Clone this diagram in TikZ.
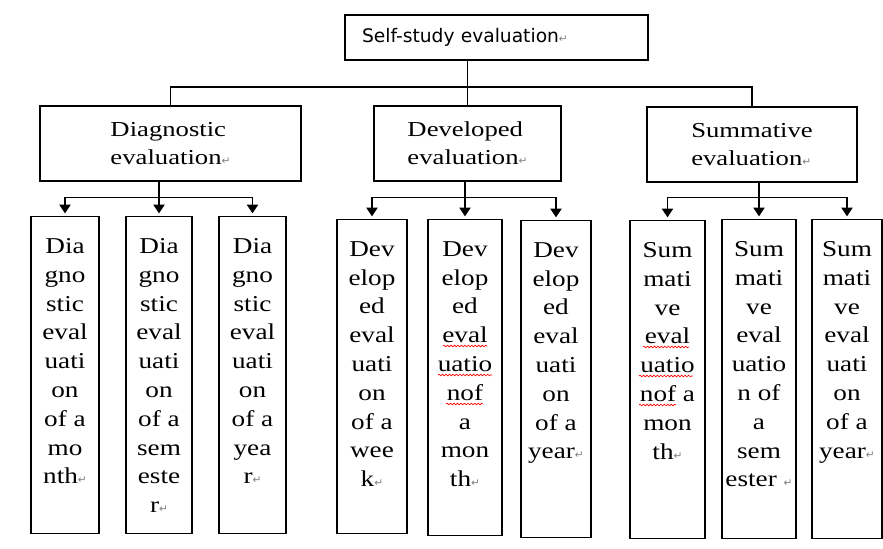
\documentclass[tikz,border=0pt]{standalone}
\usepackage{fontspec}
\usetikzlibrary{arrows.meta,decorations.pathmorphing}
\setmainfont{Liberation Serif}
\newfontfamily\leaffont[FakeStretch=1.2]{Liberation Serif}
\newfontfamily\midfont[FakeStretch=1.25]{Liberation Serif}
\newfontfamily\topfont{DejaVu Sans}
\newcommand\pmark{{\topfont\fontsize{8}{8}\selectfont\textcolor{gray}{↵}}}
\newcommand\leafbox[3]{\parbox[t][#2][t]{#1}{\centering\leaffont\fontsize{17}{21.6}\selectfont\vspace*{16.5pt}#3}}
\begin{document}
\begin{tikzpicture}[x=0.75pt,y=-0.75pt,line width=0.8pt,
  top/.style={draw,align=left,inner xsep=12.75pt,text width=201.75pt,minimum height=33.75pt,font=\topfont\fontsize{14}{16}\selectfont},
  mid/.style={draw,align=left,minimum height=56.25pt,font=\midfont\fontsize{16}{21}\selectfont},
  leaf/.style={draw,inner sep=0pt,anchor=north},
  arr/.style={-{Triangle[width=8.5pt,length=6.5pt]},shorten >=2pt},
  wave/.style={red,line width=0.5pt,decorate,decoration={snake,amplitude=0.6pt,segment length=2.6pt}}]
\useasboundingbox (0,0) rectangle (883,549);
\node[top] (top) at (496.5,37.5) {Self-study evaluation\pmark};
\node[mid,minimum width=195.75pt] (diag) at (170.5,143.5) {Diagnostic\\evaluation\pmark};
\node[mid,minimum width=140.25pt] (dev) at (467.5,143.5) {Developed\\evaluation\pmark};
\node[mid,minimum width=157.5pt] (summ) at (752,144.5) {Summative\\evaluation\pmark};
\coordinate (topbar) at (467.5,87);
\coordinate (lowbar) at (0,197.5);
\node[leaf] (d1) at (65,216) {\leafbox{51pt}{237.75pt}{Dia\\gno\\stic\\eval\\uati\\on\\of a\\mo\\nth\pmark}};
\node[leaf] (d2) at (159,216) {\leafbox{49.5pt}{237.75pt}{Dia\\gno\\stic\\eval\\uati\\on\\of a\\sem\\este\\r\pmark}};
\node[leaf] (d3) at (252.5,216) {\leafbox{50.25pt}{237.75pt}{Dia\\gno\\stic\\eval\\uati\\on\\of a\\yea\\r\pmark}};
\node[leaf] (v1) at (372,219) {\leafbox{52.5pt}{235.5pt}{Dev\\elop\\ed\\eval\\uati\\on\\of a\\wee\\k\pmark}};
\node[leaf] (v2) at (465,219) {\leafbox{55.5pt}{237pt}{Dev\\elop\\ed\\eval\\uatio\\nof\\a\\mon\\th\pmark}};
\node[leaf] (v3) at (556,220) {\leafbox{52.5pt}{237.75pt}{Dev\\elop\\ed\\eval\\uati\\on\\of a\\year\pmark}};
\node[leaf] (s1) at (667.5,220) {\leafbox{56.25pt}{238.5pt}{Sum\\mati\\ve\\eval\\uatio\\nof a\\mon\\th\pmark}};
\node[leaf] (s2) at (759,219) {\leafbox{55.5pt}{239.25pt}{Sum\\mati\\ve\\eval\\uatio\\n of\\a\\sem\\ester \pmark}};
\node[leaf] (s3) at (847,219) {\leafbox{52.5pt}{239.25pt}{Sum\\mati\\ve\\eval\\uati\\on\\of a\\year\pmark}};
\draw (top.south -| dev.north) -- (dev.north);
\draw (diag.north) |- (topbar) -| (summ.north);
\draw (d1.north |- lowbar) -- (d3.north |- lowbar);
\draw[arr] (diag.south -| d2.north) -- (d2.north);
\draw[arr] (d1.north |- lowbar) -- (d1.north);
\draw[arr] (d3.north |- lowbar) -- (d3.north);
\draw (v1.north |- lowbar) -- (v3.north |- lowbar);
\draw[arr] (dev.south -| v2.north) -- (v2.north);
\draw[arr] (v1.north |- lowbar) -- (v1.north);
\draw[arr] (v3.north |- lowbar) -- (v3.north);
\draw (s1.north |- lowbar) -- (s3.north |- lowbar);
\draw[arr] (summ.south -| s2.north) -- (s2.north);
\draw[arr] (s1.north |- lowbar) -- (s1.north);
\draw[arr] (s3.north |- lowbar) -- (s3.north);
\draw[wave] (443,346) -- (487,346);
\draw[wave] (438,375) -- (492,375);
\draw[wave] (446,404) -- (483,404);
\draw[wave] (643,347) -- (689,347);
\draw[wave] (639,376) -- (693,376);
\draw[wave] (639,405) -- (676,405);
\end{tikzpicture}
\end{document}
